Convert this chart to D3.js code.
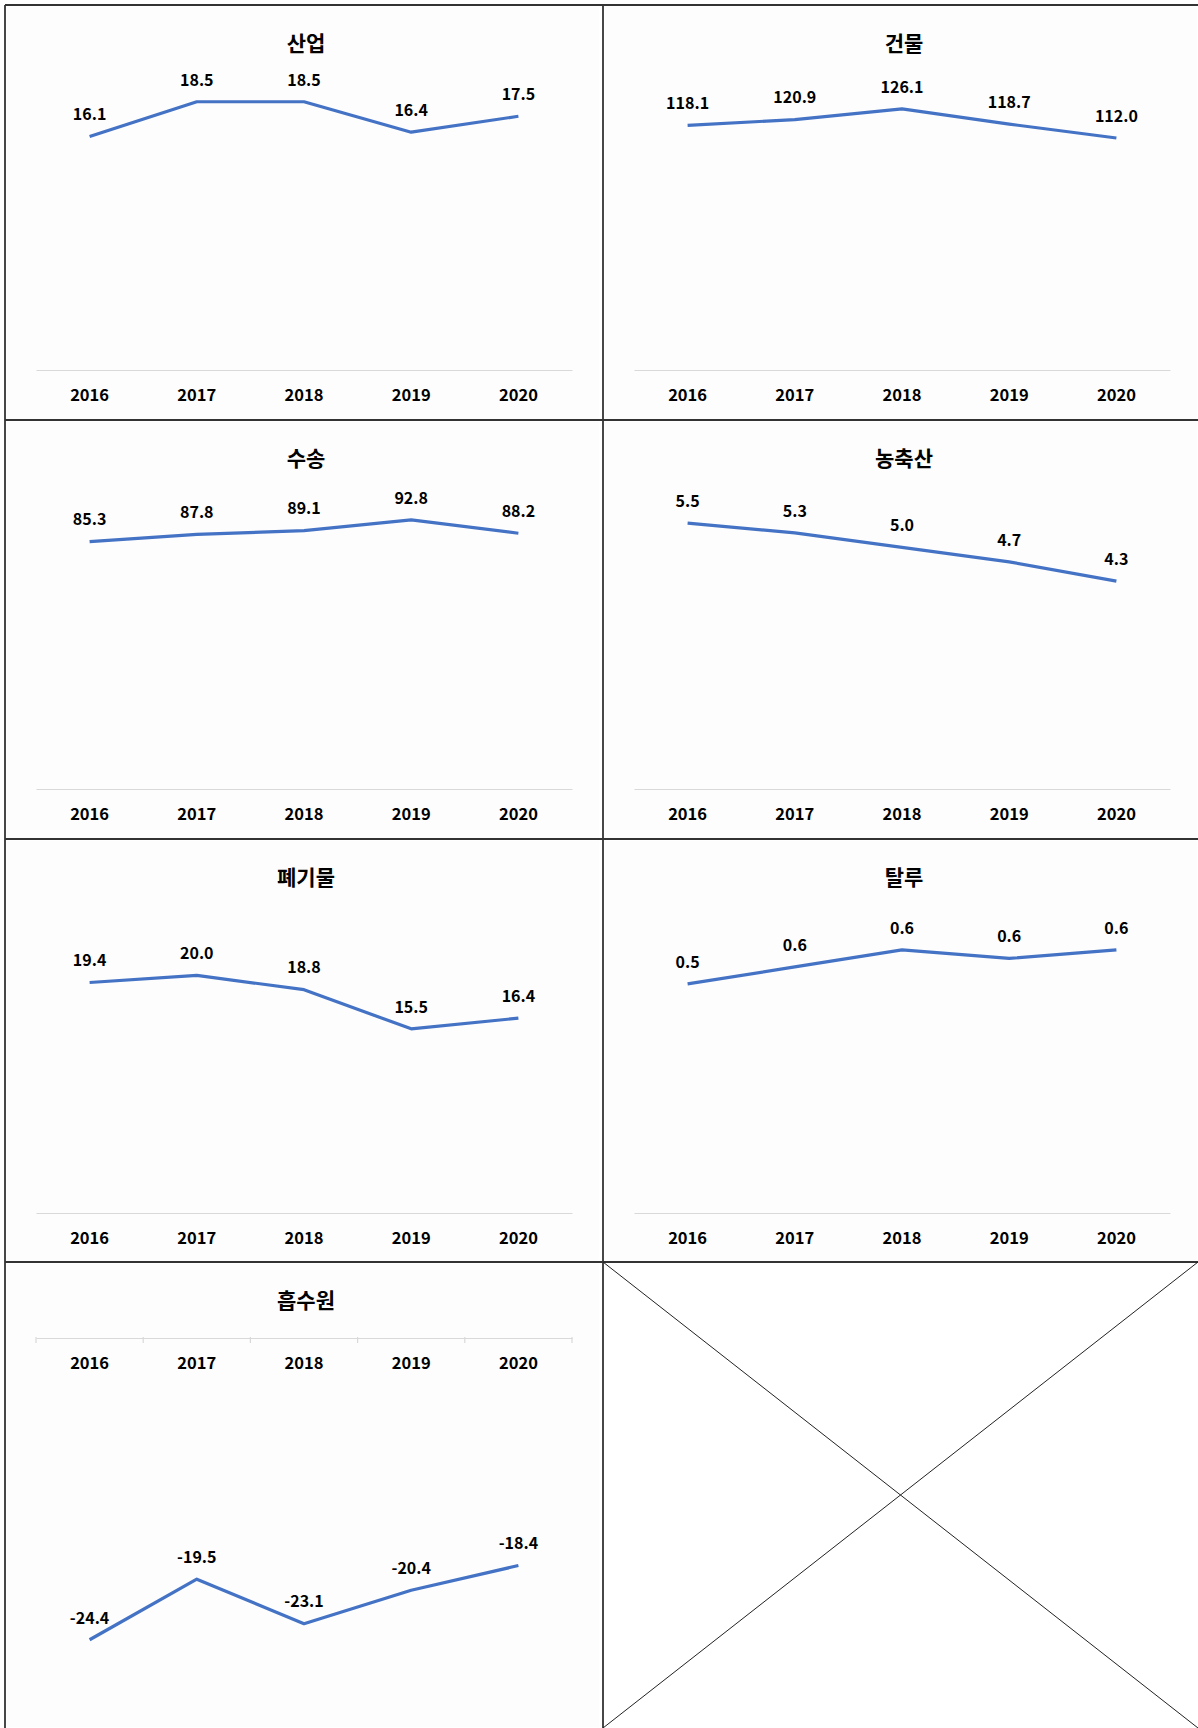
<!DOCTYPE html>
<html><head><meta charset="utf-8">
<script src="https://cdn.jsdelivr.net/npm/d3@7"></script>
<style>
body{margin:0;background:#fff}
svg{display:block}
text{font-family:"Noto Sans CJK KR","Noto Sans",sans-serif;font-weight:700;fill:#000}
</style>
</head><body>
<script>
// ---- data ----
const years = ["2016", "2017", "2018", "2019", "2020"];
const titles = ["산업", "건물", "수송", "농축산", "폐기물", "탈루", "흡수원"];
const industry = [16.1, 18.5, 18.5, 16.4, 17.5];
const buildings = [118.1, 120.9, 126.1, 118.7, 112.0];
const transport = [85.3, 87.8, 89.1, 92.8, 88.2];
const agriculture = [5.5, 5.3, 5.0, 4.7, 4.3];
const waste = [19.4, 20.0, 18.8, 15.5, 16.4];
const fugitive = [0.54, 0.58, 0.62, 0.60, 0.62];
const sinks = [-24.4, -19.5, -23.1, -20.4, -18.4];
const axisMin = [0, 0, 0, 0, 0, 0, -30];
const axisMax = [20, 140, 100, 6, 25, 0.7, 0];

const seriesList = [industry, buildings, transport, agriculture, waste, fugitive, sinks];

// ---- layout ----
const W = 1198, H = 1728;
const colLeft = [5, 603];
const rowTop = [5, 420, 839, 1262];
const rowZero = [370, 789, 1213, 1338];   // y of value 0 (category axis)
const rowMaxPx = [80, 499, 916, null];    // y of axis max for positive panels
const plotX0 = 31, plotW = 536;
const blue = "#4472C4";

const svg = d3.select("body").append("svg").attr("width", W).attr("height", H);
svg.append("rect").attr("width", W).attr("height", H).attr("fill", "#fff");

seriesList.forEach((vals, i) => {
  const r = Math.floor(i / 2), c = i % 2;
  const left = colLeft[c];
  const g = svg.append("g");
  g.append("rect").attr("x", left + 2).attr("y", rowTop[r] + 2)
    .attr("width", 592).attr("height", (r < 3 ? rowTop[r + 1] : H) - rowTop[r] - 3)
    .attr("fill", "#fdfdfd");

  const x = d3.scaleBand().domain(years).range([left + plotX0, left + plotX0 + plotW]);
  let y;
  if (axisMin[i] === 0) {
    y = d3.scaleLinear().domain([axisMin[i], axisMax[i]]).range([rowZero[r], rowMaxPx[r]]);
  } else {
    y = d3.scaleLinear().domain([axisMin[i], axisMax[i]]).range([rowZero[r] + 371, rowZero[r]]);
  }

  // title
  g.append("text").attr("x", left + plotX0 + plotW / 2 + 2).attr("y", rowTop[r] + 38)
    .attr("dy", "0.36em").attr("text-anchor", "middle").style("font-size", "21px")
    .text(titles[i]);

  // category axis
  const ax = g.append("g").attr("transform", `translate(0,${y(0)})`)
    .call(d3.axisBottom(x).tickSize(0).tickPadding(0).tickFormat(d => d));
  ax.select(".domain").attr("stroke", "#d9d9d9").attr("stroke-width", 1.2);
  ax.selectAll(".tick text").attr("y", 25).attr("dy", "0.36em")
    .style("font-size", "16.5px").style("font-family", '"Noto Sans CJK KR",sans-serif')
    .style("font-weight", 700).attr("fill", "#000");
  if (axisMin[i] < 0) {
    const bounds = d3.range(years.length + 1).map(k => x.range()[0] + k * x.step());
    ax.selectAll(".btick").data(bounds).join("line").attr("class", "btick")
      .attr("x1", d => d).attr("x2", d => d).attr("y1", -1).attr("y2", 5)
      .attr("stroke", "#d9d9d9").attr("stroke-width", 1.2);
  }

  // line
  const line = d3.line().x((d, k) => x(years[k]) + x.bandwidth() / 2).y(d => y(d));
  g.append("path").datum(vals).attr("d", line).attr("fill", "none")
    .attr("stroke", blue).attr("stroke-width", 3.2).attr("stroke-linejoin", "round");

  // data labels
  g.selectAll(".lbl").data(vals).join("text").attr("class", "lbl")
    .attr("x", (d, k) => x(years[k]) + x.bandwidth() / 2)
    .attr("y", d => y(d) - 22).attr("dy", "0.36em").attr("text-anchor", "middle")
    .style("font-size", "16px").text(d => d.toFixed(1));
});

// ---- cell borders ----
const border = svg.append("g").attr("stroke", "#333").attr("stroke-width", 1.8).attr("fill", "none");
border.append("line").attr("x1", 5).attr("x2", 5).attr("y1", 5).attr("y2", H);
border.append("line").attr("x1", 603).attr("x2", 603).attr("y1", 5).attr("y2", H);
rowTop.forEach(t => border.append("line").attr("x1", 5).attr("x2", W).attr("y1", t).attr("y2", t));

// empty cell cross
const cross = svg.append("g").attr("stroke", "#222").attr("stroke-width", 1);
cross.append("line").attr("x1", 603).attr("y1", 1262).attr("x2", W).attr("y2", H);
cross.append("line").attr("x1", W).attr("y1", 1262).attr("x2", 603).attr("y2", H);
</script>
</body></html>
